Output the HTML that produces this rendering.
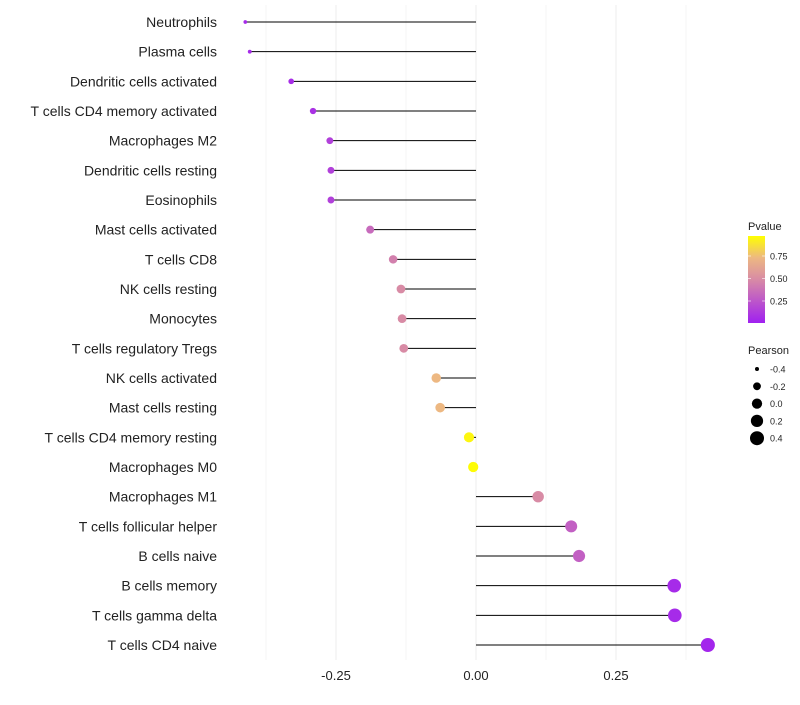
<!DOCTYPE html>
<html><head><meta charset="utf-8"><style>
body{margin:0;background:#fff;font-family:"Liberation Sans",sans-serif;}
</style></head><body>
<svg id="chart" width="800" height="700" xmlns="http://www.w3.org/2000/svg" font-family="Liberation Sans, sans-serif"></svg>
<script>
const categories=["Neutrophils","Plasma cells","Dendritic cells activated","T cells CD4 memory activated","Macrophages M2","Dendritic cells resting","Eosinophils","Mast cells activated","T cells CD8","NK cells resting","Monocytes","T cells regulatory  Tregs ","NK cells activated","Mast cells resting","T cells CD4 memory resting","Macrophages M0","Macrophages M1","T cells follicular helper","B cells naive","B cells memory","T cells gamma delta","T cells CD4 naive"];
const pearson=[-0.412,-0.404,-0.330,-0.291,-0.261,-0.259,-0.259,-0.189,-0.148,-0.134,-0.132,-0.129,-0.071,-0.064,-0.0125,-0.005,0.111,0.170,0.184,0.354,0.355,0.414];
const pvalues=[0.05,0.05,0.06,0.08,0.15,0.15,0.15,0.35,0.45,0.5,0.5,0.5,0.75,0.75,0.97,0.99,0.5,0.3,0.3,0.05,0.05,0.03];
const xTicks=[-0.25,0,0.25];
const xTickLabels=["-0.25","0.00","0.25"];
const colorTicks=[0.25,0.5,0.75];
const sizeLegend=[-0.4,-0.2,0,0.2,0.4];
const NS="http://www.w3.org/2000/svg";
const svg=document.getElementById('chart');
const xs=v=>476+v*560;
const ys=i=>22+i*(623/21);
const rs=p=>Math.sqrt(Math.max(1.5,26.5+56.25*p));
function lerp(a,b,t){return a.map((v,i)=>Math.round(v+(b[i]-v)*t));}
const stops=[[0,[160,32,240]],[0.5,[216,139,165]],[0.75,[237,184,130]],[1,[255,255,0]]];
function col(p){for(let i=0;i<stops.length-1;i++){if(p<=stops[i+1][0]){const t=(p-stops[i][0])/(stops[i+1][0]-stops[i][0]);return 'rgb('+lerp(stops[i][1],stops[i+1][1],t).join(',')+')';}}return 'rgb(255,255,0)';}
function mk(tag,attrs,parent){const e=document.createElementNS(NS,tag);for(const k in attrs)e.setAttribute(k,attrs[k]);(parent||svg).appendChild(e);return e;}
for(let k=-3;k<=3;k++){const g=mk('line',{x1:xs(k*0.125),x2:xs(k*0.125),y1:5,y2:660,stroke:'#efefef','stroke-width':k%2?0.6:1.1});

}
xTicks.forEach((t,i)=>{const e=mk('text',{x:xs(t),y:680,'text-anchor':'middle','font-size':13,fill:'#222'});e.textContent=xTickLabels[i];

});
categories.forEach((c,i)=>{
const l=mk('text',{x:217,y:ys(i)+5,'text-anchor':'end','font-size':14,fill:'#222'});l.textContent=c;


const s=mk('line',{x1:xs(0),x2:xs(pearson[i]),y1:ys(i),y2:ys(i),stroke:'#000','stroke-width':1});


const d=mk('circle',{cx:xs(pearson[i]),cy:ys(i),r:rs(pearson[i]),fill:col(pvalues[i])});


});
const lt=mk('text',{x:748,y:230,'font-size':11,fill:'#222'});lt.textContent='Pvalue';


const defs=mk('defs',{});const lg=mk('linearGradient',{id:'pg',x1:0,y1:1,x2:0,y2:0},defs);
stops.forEach(s=>mk('stop',{offset:s[0],'stop-color':'rgb('+s[1].join(',')+')'},lg));
const cb=mk('rect',{x:748,y:236,width:17,height:87,fill:'url(#pg)'});


const cy=p=>323.5-p*90;
colorTicks.forEach(t=>{mk('line',{x1:748,x2:751,y1:cy(t),y2:cy(t),stroke:'#fff','stroke-width':0.6});mk('line',{x1:762,x2:765,y1:cy(t),y2:cy(t),stroke:'#fff','stroke-width':0.6});
const e=mk('text',{x:770,y:cy(t)+3.5,'font-size':9,fill:'#222'});e.textContent=t.toFixed(2);

});
const st=mk('text',{x:748,y:354,'font-size':11,fill:'#222'});st.textContent='Pearson';


sizeLegend.forEach((v,i)=>{const y=369+i*17.3;
const c=mk('circle',{cx:757,cy:y,r:rs(v),fill:'#000'});


const e=mk('text',{x:770,y:y+3.5,'font-size':9,fill:'#222'});e.textContent=v.toFixed(1);

});
</script>
</body></html>
